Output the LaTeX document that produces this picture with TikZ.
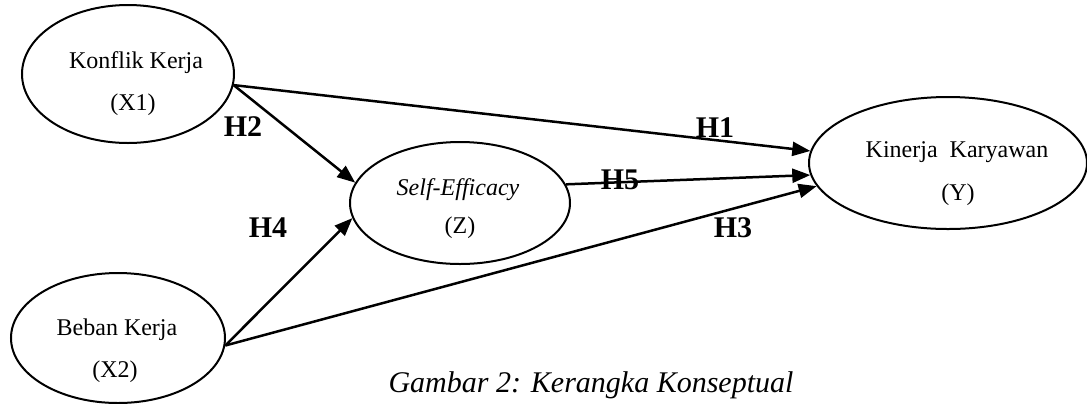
\documentclass[tikz,border=0pt]{standalone}
\usepackage{fontspec}
\setmainfont{Liberation Serif}
\usetikzlibrary{shapes.geometric,arrows.meta}
\begin{document}
\begin{tikzpicture}[x=0.5pt,y=-0.5pt,
  var/.style={draw,ellipse,line width=1pt,inner sep=0pt},
  txt/.style={inner sep=0pt,font=\fontsize{12}{14}\selectfont},
  hyp/.style={inner sep=0pt,font=\fontsize{15}{18}\selectfont\bfseries},
  arr/.style={line width=1.25pt,-{Triangle[length=9pt,width=7pt]}}]
\useasboundingbox (0,0) rectangle (1087,403);
% ellipses
\node[var,minimum width=106pt,minimum height=69pt] (x1) at (128,74) {};
\node[var,minimum width=110pt,minimum height=61pt] (z) at (460,203) {};
\node[var,minimum width=139pt,minimum height=66pt] (y) at (948,163) {};
\node[var,minimum width=107pt,minimum height=65pt] (x2) at (118,338) {};
% texts
\node[txt] (t1a) at (136,63) {Konflik Kerja};
\node[txt] (t1b) at (133,105) {(X1)};
\node[txt,font=\fontsize{12}{14}\selectfont\itshape] (tza) at (458,190) {Self-Efficacy};
\node[txt] (tzb) at (460,228) {(Z)};
\node[txt] (tya) at (957,152) {Kinerja\ \ Karyawan};
\node[txt] (tyb) at (958,195) {(Y)};
\node[txt] (t2a) at (117,330) {Beban Kerja};
\node[txt] (t2b) at (115,372) {(X2)};
% hypothesis labels
\node[hyp] (h1) at (715,128) {H1};
\node[hyp] (h2) at (243,127) {H2};
\node[hyp] (h3) at (733,228) {H3};
\node[hyp] (h4) at (268,228) {H4};
\node[hyp] (h5) at (620,180) {H5};
% arrows
\draw[arr] (x1.-6) -- (y.175.4);
\draw[arr] (x1.-6) -- (z.169.7);
\draw[arr] (z.10.4) -- (y.-175.4);
\draw[arr] (x2.-4.8) -- (z.188.3);
\draw[arr] (x2.-4.8) -- (y.190.4);
% caption
\node[inner sep=0pt,font=\fontsize{15}{18}\selectfont\itshape] (cap) at (591,385) {Gambar 2: Kerangka Konseptual};
\end{tikzpicture}
\end{document}
